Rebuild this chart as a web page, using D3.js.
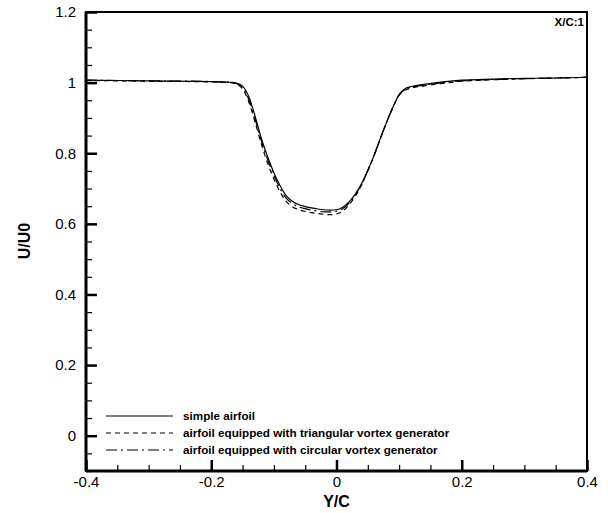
<!DOCTYPE html>
<html>
<head>
<meta charset="utf-8">
<script src="https://cdn.jsdelivr.net/npm/d3@7"></script>
<style>
  body { margin: 0; background: #fff; }
  text { font-family: "Liberation Sans", Arial, sans-serif; fill: #000; }
</style>
</head>
<body>
<div class="chart"></div>
<script>
// velocity profiles behind the airfoil at X/C = 1

var yc = [-0.4, -0.3, -0.2, -0.17, -0.16, -0.15, -0.14, -0.13, -0.12, -0.11, -0.10,
  -0.09, -0.08, -0.07, -0.06, -0.05, -0.04, -0.03, -0.02, -0.01, 0,
  0.01, 0.02, 0.03, 0.04, 0.05, 0.06, 0.07, 0.08, 0.09, 0.10,
  0.11, 0.12, 0.14, 0.17, 0.2, 0.25, 0.3, 0.35, 0.4];

var simpleAirfoil = [1.007, 1.005, 1.003, 1.001, 0.999, 0.990, 0.960, 0.905, 0.842, 0.790, 0.745,
  0.708, 0.679, 0.663, 0.654, 0.649, 0.645, 0.642, 0.640, 0.639, 0.640,
  0.647, 0.662, 0.684, 0.714, 0.752, 0.794, 0.842, 0.888, 0.930, 0.966,
  0.983, 0.989, 0.995, 1.002, 1.007, 1.010, 1.012, 1.013, 1.015];

var triangularVG = [1.006, 1.004, 1.002, 1.000, 0.996, 0.982, 0.945, 0.888, 0.826, 0.772, 0.727,
  0.690, 0.663, 0.648, 0.640, 0.635, 0.632, 0.629, 0.627, 0.626, 0.628,
  0.636, 0.654, 0.678, 0.710, 0.750, 0.793, 0.841, 0.887, 0.929, 0.964,
  0.979, 0.985, 0.991, 0.998, 1.004, 1.008, 1.011, 1.013, 1.015];

var circularVG = [1.007, 1.005, 1.003, 1.001, 0.998, 0.986, 0.952, 0.897, 0.835, 0.782, 0.737,
  0.700, 0.672, 0.657, 0.648, 0.643, 0.639, 0.636, 0.634, 0.634, 0.636,
  0.643, 0.659, 0.682, 0.712, 0.751, 0.794, 0.842, 0.888, 0.930, 0.965,
  0.981, 0.987, 0.993, 1.000, 1.005, 1.009, 1.011, 1.013, 1.015];

var seriesNames = ["simple airfoil",
  "airfoil equipped with triangular vortex generator",
  "airfoil equipped with circular vortex generator"];
var seriesDash = [null, "5,4", "11,4,2,4"];

var xTicks = [-0.4, -0.2, 0, 0.2, 0.4];
var yTicks = [0, 0.2, 0.4, 0.6, 0.8, 1, 1.2];

var margin = {top: 12, right: 21, bottom: 42, left: 86};
var width = 608 - margin.left - margin.right;
var height = 513 - margin.top - margin.bottom;

var x = d3.scaleLinear().domain([-0.4, 0.4]).range([0, width]);
var y = d3.scaleLinear().domain([-0.1, 1.2]).range([height, 0]);

var svg = d3.select(".chart")
    .append("svg")
    .attr("width", 608)
    .attr("height", 513)
    .append("g")
    .attr("transform", "translate(" + margin.left + "," + margin.top + ")");

// minor ticks every 0.05, pointing inward
var xMinor = d3.range(-0.4, 0.4001, 0.05).map(function(d) { return +d.toFixed(2); });
var yMinor = d3.range(-0.1, 1.2001, 0.05).map(function(d) { return +d.toFixed(2); });

svg.append("g")
    .attr("transform", "translate(0," + height + ")")
    .call(d3.axisBottom(x).tickValues(xMinor).tickSize(-6).tickFormat(""))
    .call(function(g) { g.select(".domain").remove(); })
    .selectAll("line").attr("stroke-width", 1.2);

svg.append("g")
    .call(d3.axisLeft(y).tickValues(yMinor).tickSize(-6).tickFormat(""))
    .call(function(g) { g.select(".domain").remove(); })
    .selectAll("line").attr("stroke-width", 1.2);

// major ticks, plain hyphen for negatives like the original
var xAxis = svg.append("g")
    .attr("transform", "translate(0," + height + ")")
    .call(d3.axisBottom(x).tickValues(xTicks).tickSize(-11).tickPadding(5)
      .tickFormat(function(d) { return String(d); }));
xAxis.select(".domain").remove();
xAxis.selectAll("line").attr("stroke-width", 2.5);
xAxis.selectAll("text").style("font-size", "15px");

var yAxis = svg.append("g")
    .call(d3.axisLeft(y).tickValues(yTicks).tickSize(-11).tickPadding(10)
      .tickFormat(function(d) { return String(d); }));
yAxis.select(".domain").remove();
yAxis.selectAll("line").attr("stroke-width", 2.5);
yAxis.selectAll("text").style("font-size", "15px");

// frame
svg.append("rect")
    .attr("width", width)
    .attr("height", height)
    .attr("fill", "none")
    .attr("stroke", "#000")
    .attr("stroke-width", 2);
svg.append("line")
    .attr("x1", 0).attr("x2", 0).attr("y1", 0).attr("y2", height)
    .attr("stroke", "#000").attr("stroke-width", 3);
svg.append("line")
    .attr("x1", 0).attr("x2", width).attr("y1", height).attr("y2", height)
    .attr("stroke", "#000").attr("stroke-width", 3);

// curves
var line = d3.line()
    .x(function(d) { return x(d[0]); })
    .y(function(d) { return y(d[1]); })
    .curve(d3.curveMonotoneX);

[simpleAirfoil, triangularVG, circularVG].forEach(function(vals, i) {
  svg.append("path")
      .datum(yc.map(function(v, j) { return [v, vals[j]]; }))
      .attr("fill", "none")
      .attr("stroke", "#000")
      .attr("stroke-width", 1.2)
      .attr("stroke-dasharray", seriesDash[i])
      .attr("d", line);
});

// legend
var legend = svg.append("g").attr("transform", "translate(20," + (height - 55) + ")");
seriesNames.forEach(function(name, i) {
  var row = legend.append("g").attr("transform", "translate(0," + (i * 17) + ")");
  row.append("line")
      .attr("x1", 0).attr("x2", 67)
      .attr("stroke", "#000")
      .attr("stroke-width", 1.2)
      .attr("stroke-dasharray", seriesDash[i]);
  row.append("text")
      .attr("x", 77)
      .attr("dy", "0.35em")
      .style("font-size", "11.7px")
      .style("font-weight", "bold")
      .text(name);
});

// labels
svg.append("text")
    .attr("x", width - 3)
    .attr("y", 14)
    .style("text-anchor", "end")
    .style("font-size", "11.5px")
    .style("font-weight", "bold")
    .text("X/C:1");

svg.append("text")
    .attr("x", width / 2)
    .attr("y", height + 36)
    .style("text-anchor", "middle")
    .style("font-size", "16px")
    .style("font-weight", "bold")
    .text("Y/C");

svg.append("text")
    .attr("transform", "rotate(-90)")
    .attr("x", 0 - 229)
    .attr("y", 0 - margin.left + 30)
    .style("text-anchor", "middle")
    .style("font-size", "16px")
    .style("font-weight", "bold")
    .text("U/U0");
</script>
</body>
</html>
